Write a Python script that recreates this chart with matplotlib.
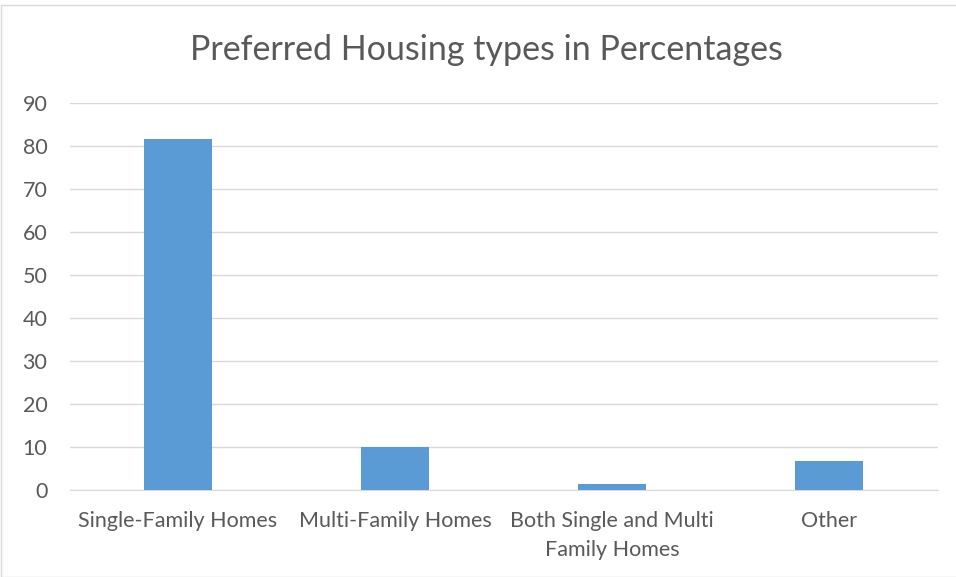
import matplotlib
matplotlib.use("Agg")
import matplotlib.pyplot as plt
from matplotlib.patches import Rectangle

categories = ["Single-Family Homes", "Multi-Family Homes", "Both Single and Multi\nFamily Homes", "Other"]
values = [81.6, 10.1, 1.3, 6.7]
yticks = [0, 10, 20, 30, 40, 50, 60, 70, 80, 90]
title = "Preferred Housing types in Percentages"

plt.rcParams['font.family'] = ['Lato', 'DejaVu Sans']
fig = plt.figure(figsize=(9.56, 5.77), dpi=100)
ax = fig.add_axes([69.5/956, 1-490/577, (937.5-69.5)/956, (490-103)/577])

x = list(range(len(categories)))
ax.bar(x, values, width=0.31, color="#5B9BD5", zorder=3)
ax.set_xlim(-0.5, len(categories)-0.5)
ax.set_ylim(0, 90)
ax.set_yticks(yticks)
ax.set_xticks(x)
ax.set_xticklabels(categories, fontsize=15.5, color="#595959", linespacing=1.55)
ax.set_yticklabels([str(v) for v in yticks], fontsize=15.5, color="#595959")
ax.yaxis.grid(True, color="#D9D9D9", linewidth=1.0, zorder=0)
for s in ["top", "right", "left"]:
    ax.spines[s].set_visible(False)
ax.spines["bottom"].set_color("#D9D9D9")
ax.tick_params(axis="both", length=0)
ax.tick_params(axis="y", pad=16)
ax.tick_params(axis="x", pad=15)

fig.text(486/956, 1-50/577, title, ha="center", va="center", fontsize=24.5, color="#595959")
fig.patches.append(Rectangle((0.5/956, 0), 1, 1-5/577, transform=fig.transFigure,
                             fill=False, edgecolor="#D9D9D9", linewidth=1))

fig.savefig("out.png", dpi=100)
